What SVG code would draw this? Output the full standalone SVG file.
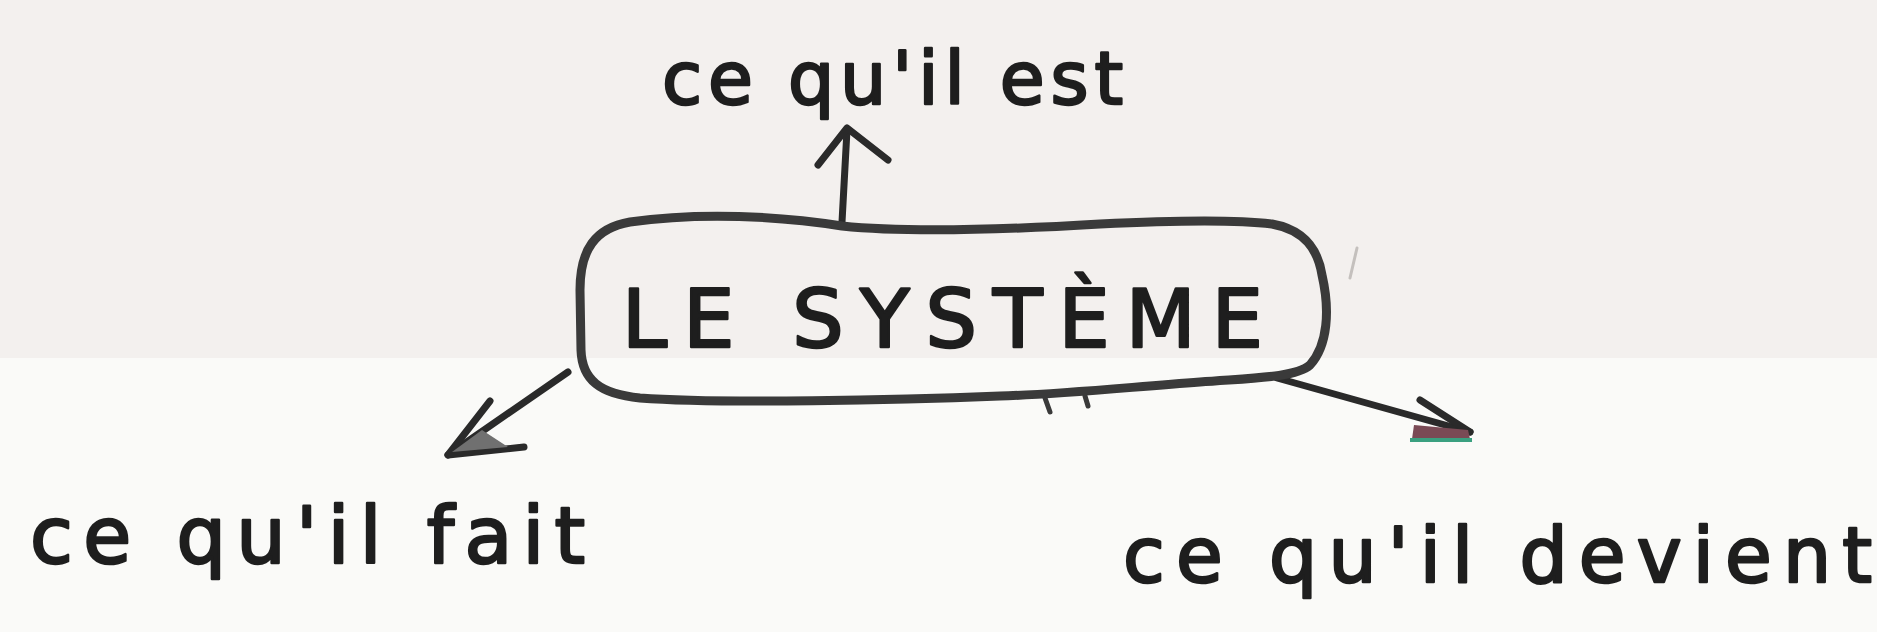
<svg xmlns="http://www.w3.org/2000/svg" width="1877" height="632" viewBox="0 0 1877 632">
  <style>
    .hand { font-family: "DejaVu Sans", "Liberation Sans", sans-serif; fill: #1e1e1e; stroke: #1e1e1e; stroke-width: 2.5; stroke-linejoin: round; }
    .box { fill: none; stroke: #3a3a3a; stroke-width: 9; stroke-linejoin: round; stroke-linecap: round; }
    .conn { fill: none; stroke: #2a2a2a; stroke-width: 7; stroke-linecap: round; stroke-linejoin: round; }
  </style>
  <rect x="0" y="0" width="1877" height="632" fill="#fafaf8"/>
  <rect x="0" y="0" width="1877" height="358" fill="#f3f0ee"/>

  <g id="connectors">
    <!-- up arrow -->
    <path class="conn" d="M842 222 L847 130"/>
    <path class="conn" d="M818 165 L847 128 L888 160"/>
    <!-- left arrow -->
    <path class="conn" stroke="#3a3a3a" d="M568 372 L448 455"/>
    <path class="conn" stroke="#3a3a3a" d="M490 401 L448 455 L524 447"/>
    <path d="M452 452 L482 430 L508 447 Z" fill="#707070"/>
    <!-- right arrow -->
    <path class="conn" stroke="#3a3a3a" d="M1277 378 L1470 432"/>
    <path class="conn" stroke="#3a3a3a" d="M1420 400 L1470 432"/>
    <path d="M1414 425 L1468 430 L1470 439 L1412 439 Z" fill="#7a4a55"/>
    <path d="M1410 440 L1472 440" stroke="#3aa080" stroke-width="4" fill="none"/>
  </g>

  <g id="node-systeme">
    <path class="box" d="M842 226 C900 232 1000 230 1100 224 C1180 220 1240 220 1272 224 C1305 230 1318 250 1322 275 C1330 310 1328 345 1310 365 C1295 378 1250 378 1200 382 C1120 388 1050 395 1000 396 C900 400 720 404 640 398 C600 394 582 380 581 350 L580 290 C580 250 595 228 630 222 C700 212 780 216 842 226 Z"/>
    <path d="M1045 398 L1050 412 M1085 396 L1088 406" stroke="#3a3a3a" stroke-width="5" stroke-linecap="round"/>
    <text class="hand" x="622" y="347" font-size="81" textLength="641" lengthAdjust="spacing">LE SYSTÈME</text>
  </g>

  <path d="M1357 248 L1350 278" stroke="#c4c0bd" stroke-width="3" stroke-linecap="round"/>

  <g id="node-est">
    <text class="hand" x="662" y="104" font-size="73" textLength="461" lengthAdjust="spacing">ce qu'il est</text>
  </g>
  <g id="node-fait">
    <text class="hand" x="30" y="563" font-size="78" textLength="555" lengthAdjust="spacing">ce qu'il fait</text>
  </g>
  <g id="node-devient">
    <text class="hand" x="1123" y="582" font-size="76" textLength="749" lengthAdjust="spacing">ce qu'il devient</text>
  </g>
</svg>
